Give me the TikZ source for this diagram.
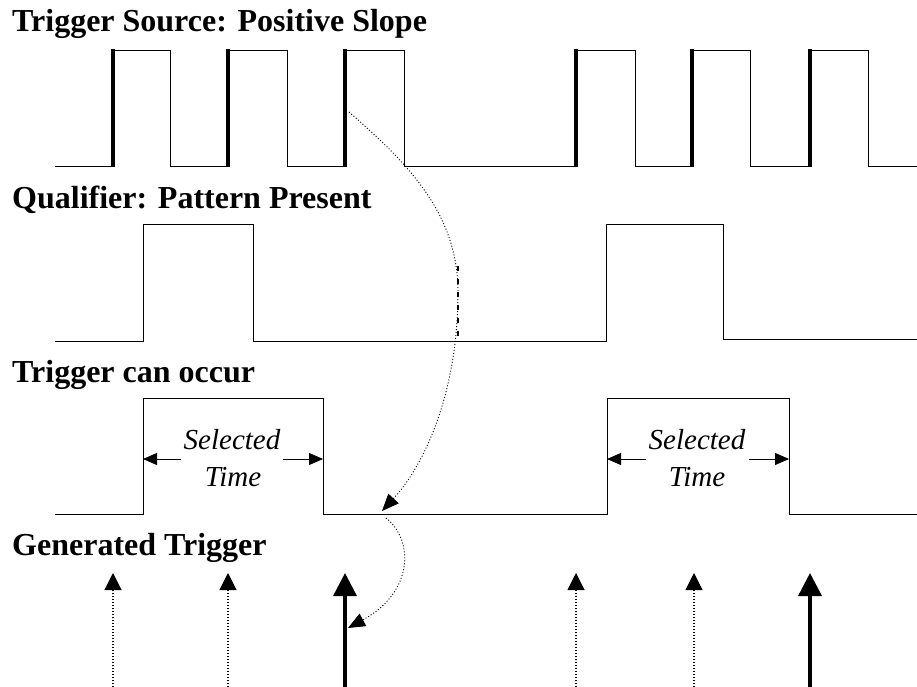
\documentclass[tikz,border=0pt]{standalone}
\usepackage{fontspec}
\setmainfont{Liberation Serif}
\usetikzlibrary{arrows.meta}
\begin{document}
\begin{tikzpicture}[x=1pt,y=-1pt,
  wave/.style={line width=0.9pt, line join=miter},
  riseedge/.style={line width=3.3pt},
  ttl/.style={anchor=base west, inner sep=0pt, font=\fontsize{32}{38}\selectfont\bfseries},
  lbl/.style={anchor=base, inner sep=0pt, font=\fontsize{29}{35}\selectfont\itshape},
  span/.style={line width=0.8pt, -{Triangle[length=14pt,width=12pt]}},
  smalltrig/.style={line width=1.1pt, dash pattern=on 1.2pt off 1.8pt, -{Triangle[length=17pt,width=17pt]}},
  bigtrig/.style={line width=3.5pt, -{Triangle[length=23pt,width=23pt]}},
  curvearrow/.style={line width=0.9pt, dash pattern=on 1pt off 2pt, -{Triangle[length=17pt,width=14pt]}}
]
\useasboundingbox (0,0) rectangle (917,687);

% titles
\node[ttl] (t1) at (12,32) {Trigger Source: Positive Slope};
\node[ttl] (t2) at (12,208) {Qualifier: Pattern Present};
\node[ttl] (t3) at (12,382) {Trigger can occur};
\node[ttl] (t4) at (12,555) {Generated Trigger};

% trigger source
\draw[wave] (55,166) -- (113,166) -- (113,50) -- (170,50) -- (170,166) -- (228,166) -- (228,50) -- (287,50) -- (287,166)
  -- (345,166) -- (345,50) -- (404,50) -- (404,166) -- (576,166) -- (576,50) -- (635,50) -- (635,166)
  -- (692,166) -- (692,50) -- (750,50) -- (750,166) -- (810,166) -- (810,50) -- (868,50) -- (868,166) -- (917,166);
\foreach \x in {113,228,345,576,692,810}
  \draw[riseedge] (\x,167) -- (\x,49);

% qualifier
\draw[wave] (55,341) -- (143,341) -- (143,224) -- (253,224) -- (253,341) -- (606,341) -- (606,224) -- (723,224)
  -- (723,339) -- (917,339);

% trigger can occur
\draw[wave] (55,514) -- (143,514) -- (143,398) -- (323,398) -- (323,514) -- (607,514) -- (607,398) -- (789,398)
  -- (789,514) -- (917,514);

% selected time labels
\node[lbl] (s1) at (232,449) {Selected};
\node[lbl] (m1) at (233,486) {Time};
\node[lbl] (s2) at (697,449) {Selected};
\node[lbl] (m2) at (697,486) {Time};
\coordinate (a1l) at (181,459); \coordinate (a1le) at (143,459);
\coordinate (a1r) at (283,459); \coordinate (a1re) at (323,459);
\coordinate (a2l) at (646,459); \coordinate (a2le) at (607,459);
\coordinate (a2r) at (749,459); \coordinate (a2re) at (789,459);
\draw[span] (a1l) -- (a1le);
\draw[span] (a1r) -- (a1re);
\draw[span] (a2l) -- (a2le);
\draw[span] (a2r) -- (a2re);

% generated triggers
\foreach \x/\n in {113/g1,228/g2,576/g3,694/g4} {
  \coordinate (\n b) at (\x,687);
  \coordinate (\n t) at (\x,573);
  \draw[smalltrig] (\n b) -- (\n t);
}
\foreach \x/\n in {345/h1,810/h2} {
  \coordinate (\n b) at (\x,687);
  \coordinate (\n t) at (\x,573);
  \draw[bigtrig] (\n b) -- (\n t);
}

% causal curve
\coordinate (c0) at (349,112);
\coordinate (c1) at (458,292);
\coordinate (c2) at (382,511);
\draw[curvearrow] (c0) .. controls (410,165) and (458,215) .. (c1) .. controls (458,400) and (420,470) .. (c2);
\coordinate (d0) at (458,266);
\coordinate (d1) at (458,340);
\draw[line width=1.8pt, dash pattern=on 5pt off 8pt] (d0) -- (d1);
\coordinate (e0) at (386,518);
\coordinate (e1) at (348,628);
\draw[curvearrow] (e0) .. controls (414,540) and (414,592) .. (e1);
\end{tikzpicture}
\end{document}
